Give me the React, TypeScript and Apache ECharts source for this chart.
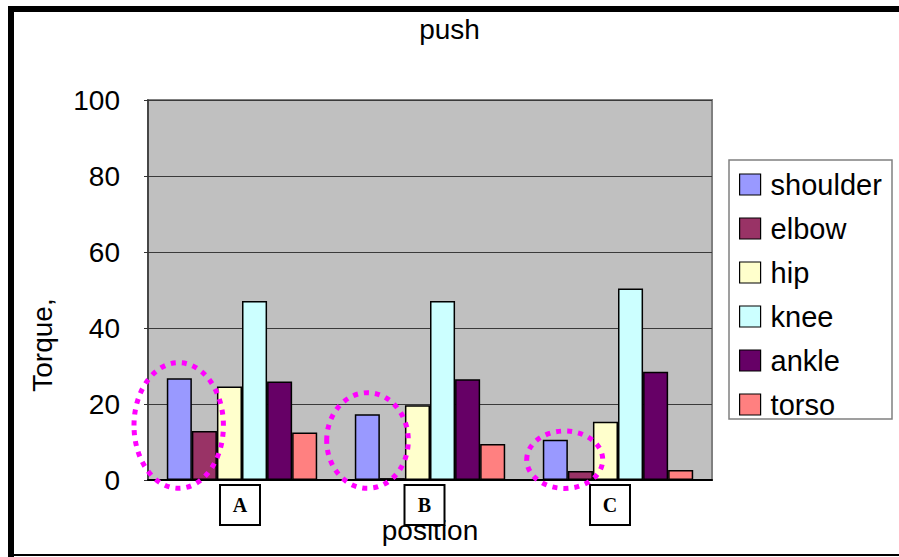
import React, { useEffect, useRef } from "react";
import * as echarts from "echarts";

// Torque per joint for each pushing position
const positions = ["A", "B", "C"];
const jointNames = ["shoulder", "elbow", "hip", "knee", "ankle", "torso"];
const shoulder = [26.8, 17.3, 10.6];
const elbow = [12.9, 0.5, 2.4];
const hip = [24.6, 19.7, 15.3];
const knee = [47.1, 47.1, 50.4];
const ankle = [25.9, 26.5, 28.5];
const torso = [12.5, 9.5, 2.6];
const yTicks = { min: 0, max: 100, interval: 20 };

const jointValues = [shoulder, elbow, hip, knee, ankle, torso];
const jointColors = ["#9999FF", "#993366", "#FFFFCC", "#CCFFFF", "#660066", "#FF8080"];

// trailing spacer (px) after each boxed category label, nudging the box leftwards
const labelSpacer = [4, 11, 16];

const SANS = '"Liberation Sans", Arial, Helvetica, sans-serif';
const SERIF = '"Liberation Serif", "Times New Roman", serif';

export default function App() {
  const ref = useRef<HTMLDivElement>(null);

  useEffect(() => {
    document.body.style.margin = "0";
    document.body.style.overflow = "hidden";
    if (!ref.current) return;
    const chart = echarts.init(ref.current, null, { renderer: "svg" });

    const series = jointNames.map((name, i) => ({
      name,
      type: "bar" as const,
      data: jointValues[i],
      barGap: "0%",
      barCategoryGap: "20%",
      itemStyle: { color: jointColors[i], borderColor: "#000", borderWidth: 1.5 },
    }));

    const ring = (cx: number, cy: number, rx: number, ry: number) => ({
      type: "ellipse",
      shape: { cx, cy, rx, ry },
      z: 100,
      style: { fill: "none", stroke: "#FF00FF", lineWidth: 5, lineDash: [5, 6] },
    });

    const spacerRich: Record<string, object> = {};
    labelSpacer.forEach((w, i) => {
      spacerRich["s" + i] = { width: w, height: 38 };
    });

    chart.setOption({
      animation: false,
      backgroundColor: "#fff",
      title: {
        text: "push",
        left: "center",
        top: 10,
        textStyle: { fontSize: 28, fontWeight: "normal", fontFamily: SANS, color: "#000" },
      },
      legend: {
        orient: "vertical",
        left: 739,
        top: 170,
        padding: 0,
        itemWidth: 21,
        itemHeight: 21,
        itemGap: 15,
        icon: "rect",
        itemStyle: { borderColor: "#000", borderWidth: 1.2 },
        textStyle: { fontSize: 29, fontFamily: SANS, color: "#000", padding: [0, 0, 0, 5], lineHeight: 22 },
        data: jointNames,
      },
      grid: {
        left: 148,
        top: 100,
        right: 187,
        bottom: 77,
        outerBoundsMode: "none",
        show: true,
        backgroundColor: "#C0C0C0",
        borderColor: "#808080",
        borderWidth: 2,
      },
      xAxis: {
        type: "category",
        data: positions,
        name: "position",
        nameLocation: "middle",
        nameGap: 36,
        nameMoveOverlap: false,
        nameTextStyle: { fontSize: 28, fontFamily: SANS, color: "#000" },
        axisLine: { lineStyle: { color: "#000", width: 2 } },
        axisTick: { show: false },
        axisLabel: {
          interval: 0,
          margin: 6,
          align: "center",
          formatter: (value: string, index: number) => `{box|${value}}{s${index}|}`,
          rich: {
            box: {
              color: "#000",
              fontFamily: SERIF,
              fontWeight: "bold",
              fontSize: 20,
              backgroundColor: "#fff",
              borderColor: "#000",
              borderWidth: 2,
              width: 38,
              height: 38,
              lineHeight: 38,
              align: "center",
            },
            ...spacerRich,
          },
        },
        z: 50,
      },
      yAxis: {
        type: "value",
        min: yTicks.min,
        max: yTicks.max,
        interval: yTicks.interval,
        axisLine: { show: true, lineStyle: { color: "#333", width: 1.5 } },
        axisTick: { show: true, length: 4, lineStyle: { color: "#333" } },
        axisLabel: { fontSize: 28, fontFamily: SANS, color: "#000", margin: 28 },
        splitLine: { lineStyle: { color: "#3a3a3a", width: 1.2 } },
      },
      series,
      graphic: [
        // outer frame
        { type: "rect", shape: { x: 8, y: 6, width: 6, height: 551 }, style: { fill: "#000" } },
        { type: "rect", shape: { x: 8, y: 6, width: 891, height: 6 }, style: { fill: "#000" } },
        { type: "rect", shape: { x: 8, y: 554, width: 891, height: 2 }, style: { fill: "#000" } },
        // legend frame
        {
          type: "rect",
          z: -1,
          shape: { x: 729, y: 160, width: 163, height: 259 },
          style: { fill: "#fff", stroke: "#808080", lineWidth: 1.5 },
        },
        // rotated value-axis title
        {
          type: "text",
          x: 42,
          y: 345,
          rotation: Math.PI / 2,
          style: {
            text: "Torque,",
            font: `28px ${SANS}`,
            fill: "#000",
            align: "center",
            verticalAlign: "middle",
          },
        },
        // highlight rings around shoulder/elbow bars
        ring(178.7, 425.5, 44.7, 62.8),
        ring(367.5, 440.5, 40.8, 47.8),
        ring(564.7, 459.7, 38, 28.7),
      ],
    });

    return () => chart.dispose();
  }, []);

  return <div ref={ref} style={{ width: 899, height: 557 }} />;
}
